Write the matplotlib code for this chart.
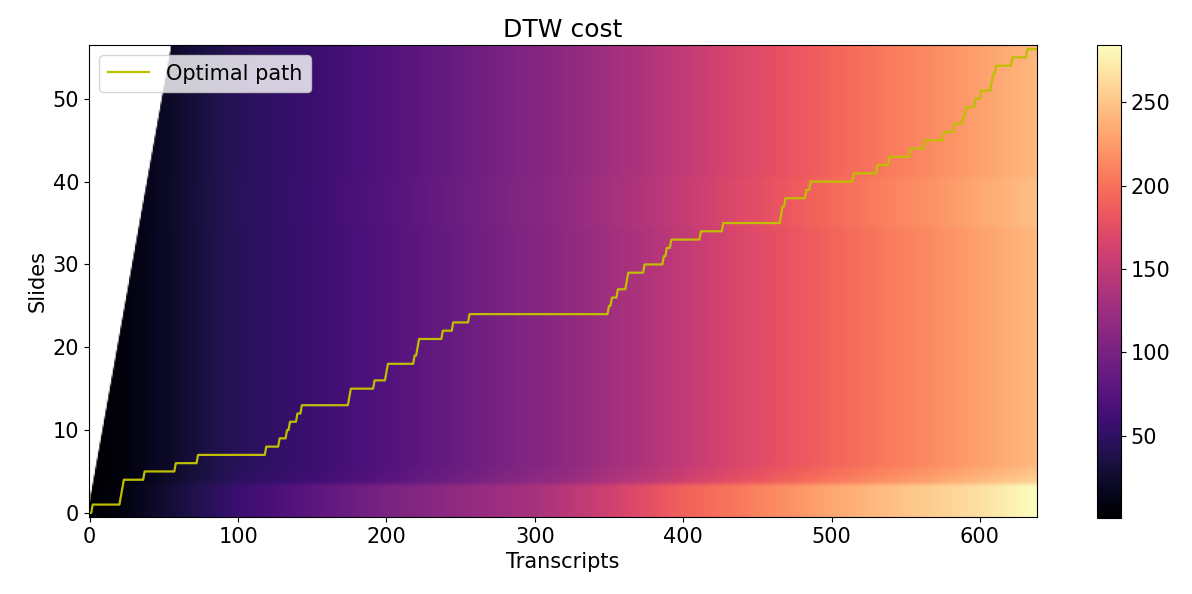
import numpy as np
import matplotlib
matplotlib.use("Agg")
import matplotlib.pyplot as plt

# ---- data ----
n_slides = 57
n_transcripts = 639

# accumulated cost along transcripts for the main rows (slides 6..56)
main_knots_x = [0, 10, 25, 50, 75, 100, 150, 200, 250, 300, 320, 350, 375, 400, 431, 450, 488, 500, 544, 566, 600, 638]
main_knots_v = [0.5, 3, 8, 20, 33, 45, 57, 73, 90, 108, 114, 128, 138, 150, 165, 172, 187, 192, 208, 215, 228, 242]

# accumulated cost along transcripts for the bottom rows (slides 0..3)
bottom_knots_x = [0, 25, 50, 100, 150, 200, 250, 300, 350, 400, 450, 500, 550, 600, 638]
bottom_knots_v = [0.5, 10, 26, 57, 80, 101, 117, 133, 160, 190, 210, 232, 250, 266, 284.5]

# relative brightening of a few slide rows
row_factor_rows = [4, 5, 35, 36, 37, 38, 39, 40]
row_factor_vals = [1.06, 1.03, 1.02, 1.02, 1.02, 1.02, 1.02, 1.02]

# optimal path: transcript index where the path reaches each slide
path_level_start = [0, 2, 21, 22, 23, 37, 58, 73, 119, 128, 133, 135, 140, 143,
                    175, 176, 192, 200, 201, 219, 221, 222, 238, 245, 256, 350,
                    352, 356, 362, 363, 374, 387, 389, 392, 412, 427, 466, 467,
                    469, 483, 486, 515, 531, 539, 553, 563, 576, 583, 589, 591,
                    597, 601, 608, 609, 611, 622, 632]
path_end_x = 638

# ---- build the cost matrix ----
cols = np.arange(n_transcripts)
main_prof = np.interp(cols, main_knots_x, main_knots_v)
bottom_prof = np.interp(cols, bottom_knots_x, bottom_knots_v)
cost = np.tile(main_prof, (n_slides, 1))
cost[0:4, :] = bottom_prof
for r, f in zip(row_factor_rows, row_factor_vals):
    cost[r, :] = main_prof * f
ii, jj = np.meshgrid(np.arange(n_slides), cols, indexing="ij")
cost[jj < ii - 1] = np.nan

# ---- path vertices ----
px, py = [], []
for k, s in enumerate(path_level_start):
    e = path_level_start[k + 1] - 1 if k + 1 < len(path_level_start) else path_end_x
    px += [s, e]
    py += [k, k]

# ---- figure ----
plt.rcParams["font.size"] = 15
fig = plt.figure(figsize=(11.92, 5.94), dpi=100)
ax = fig.add_axes([89 / 1192, 77 / 594, 948 / 1192, 472 / 594])
cax = fig.add_axes([1097 / 1192, 76 / 594, 24 / 1192, 473 / 594])

im = ax.imshow(cost, origin="lower", aspect="auto", cmap="magma")
ax.plot(px, py, color="y", linewidth=1.6, label="Optimal path")
ax.set_xlim(-0.5, n_transcripts - 0.5)
ax.set_ylim(-0.5, n_slides - 0.5)
ax.set_title("DTW cost", fontsize=18)
ax.set_xlabel("Transcripts")
ax.set_ylabel("Slides")
ax.legend(loc="upper left")
fig.colorbar(im, cax=cax)

fig.savefig("out.png", dpi=100)
